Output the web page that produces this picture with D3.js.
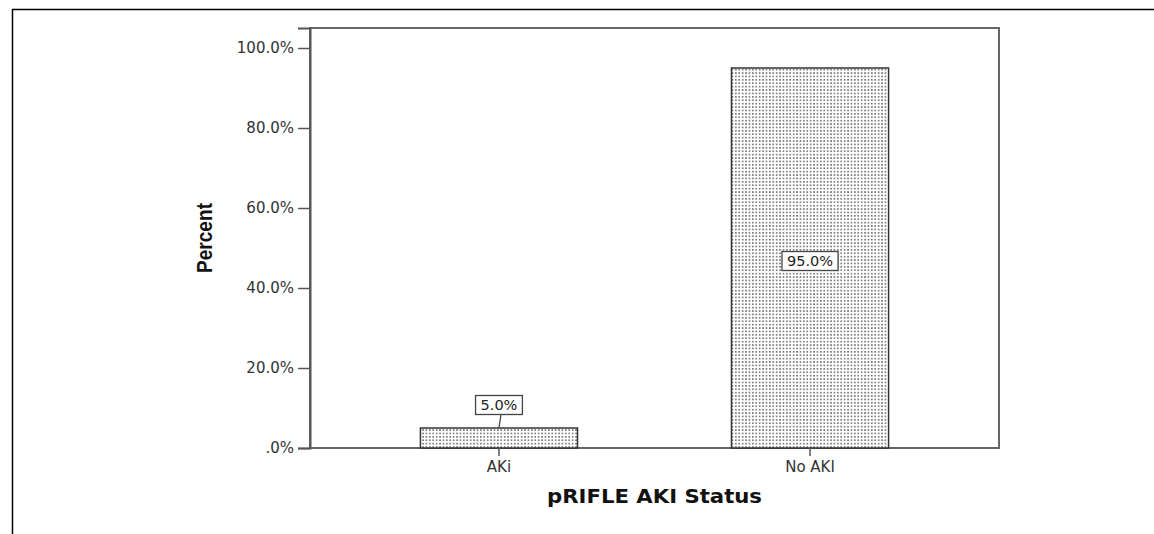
<!DOCTYPE html>
<html>
<head>
<meta charset="utf-8">
<script src="https://cdn.jsdelivr.net/npm/d3@7"></script>
<style>
  body { margin: 0; background: #fff; }
  svg { display: block; }
  .tick text { font-family: "DejaVu Sans", Verdana, sans-serif; font-size: 15px; fill: #333; }
</style>
</head>
<body>
<div id="wrapper"></div>
<script>
// chart data
const categories = ["AKi", "No AKI"];
const percentValues = [5.0, 95.0];
const yTicks = [0, 20, 40, 60, 80, 100];

function drawChart() {
    const dimensions = {
        width: 1154,
        height: 534,
        margin: { top: 28, right: 155, bottom: 86, left: 310 }
    };
    dimensions.boundedWidth = dimensions.width - dimensions.margin.left - dimensions.margin.right;
    dimensions.boundedHeight = dimensions.height - dimensions.margin.top - dimensions.margin.bottom;

    const svg = d3.select("#wrapper").append("svg")
        .attr("width", dimensions.width)
        .attr("height", dimensions.height);

    // dotted fill
    const pattern = svg.append("defs").append("pattern")
        .attr("id", "dots")
        .attr("patternUnits", "userSpaceOnUse")
        .attr("width", 3.4)
        .attr("height", 3.4);
    pattern.append("rect").attr("width", 3.4).attr("height", 3.4).attr("fill", "#fff");
    pattern.append("rect").attr("width", 1.7).attr("height", 1.7).attr("fill", "#808080");

    // outer frame (top + left only)
    svg.append("line").attr("x1", 12).attr("x2", dimensions.width).attr("y1", 9.5).attr("y2", 9.5)
        .attr("stroke", "#000").attr("stroke-width", 1.5);
    svg.append("line").attr("x1", 12.5).attr("x2", 12.5).attr("y1", 9).attr("y2", dimensions.height)
        .attr("stroke", "#000").attr("stroke-width", 1.5);

    const bounds = svg.append("g")
        .attr("transform", `translate(${dimensions.margin.left}, ${dimensions.margin.top})`);

    const xScale = d3.scaleBand()
        .domain(categories)
        .range([0, dimensions.boundedWidth])
        .paddingInner(0.495)
        .paddingOuter(0.355);

    const yScale = d3.scaleLinear()
        .domain([0, 105])
        .range([dimensions.boundedHeight, 0]);

    // plot frame
    bounds.append("rect")
        .attr("width", dimensions.boundedWidth)
        .attr("height", dimensions.boundedHeight)
        .attr("fill", "none")
        .attr("stroke", "#666")
        .attr("stroke-width", 2);

    // bars
    bounds.selectAll(".bar")
        .data(percentValues)
        .join("rect")
        .attr("class", "bar")
        .attr("x", (d, i) => xScale(categories[i]))
        .attr("y", d => yScale(d))
        .attr("width", xScale.bandwidth())
        .attr("height", d => yScale(0) - yScale(d))
        .attr("fill", "url(#dots)")
        .attr("stroke", "#333")
        .attr("stroke-width", 1.5);

    // axes
    const yAxis = bounds.append("g")
        .call(d3.axisLeft(yScale)
            .tickValues(yTicks)
            .tickSize(12)
            .tickPadding(4)
            .tickFormat(d => d === 0 ? ".0%" : d.toFixed(1) + "%"));
    yAxis.select(".domain").attr("stroke", "#555").attr("stroke-width", 2);
    yAxis.selectAll(".tick line").attr("stroke", "#555").attr("stroke-width", 1.5);

    const xAxis = bounds.append("g")
        .attr("transform", `translate(0, ${dimensions.boundedHeight})`)
        .call(d3.axisBottom(xScale).tickSize(8).tickPadding(5));
    xAxis.select(".domain").remove();
    xAxis.selectAll(".tick line").attr("stroke", "#555").attr("stroke-width", 1.5);

    // value labels
    percentValues.forEach((v, i) => {
        const cx = xScale(categories[i]) + xScale.bandwidth() / 2;
        const label = v.toFixed(1) + "%";
        const inside = v > 50;
        const cy = inside ? yScale(v / 2) + 3 : yScale(v) - 23;
        const g = bounds.append("g");
        const t = g.append("text")
            .attr("x", cx)
            .attr("y", cy)
            .attr("dy", "0.36em")
            .attr("text-anchor", "middle")
            .style("font-family", "DejaVu Sans, Verdana, sans-serif")
            .style("font-size", "14.5px")
            .attr("fill", "#222")
            .text(label);
        const bb = t.node().getBBox();
        g.insert("rect", "text")
            .attr("x", bb.x - 5)
            .attr("y", cy - 9.5)
            .attr("width", bb.width + 10)
            .attr("height", 19)
            .attr("fill", "#fff")
            .attr("stroke", "#444")
            .attr("stroke-width", 1.3);
        if (!inside) {
            g.append("line")
                .attr("x1", cx + 2).attr("x2", cx)
                .attr("y1", cy + 9.5).attr("y2", yScale(v))
                .attr("stroke", "#444").attr("stroke-width", 1.3);
        }
    });

    // axis titles
    bounds.append("text")
        .attr("x", dimensions.boundedWidth / 2)
        .attr("y", dimensions.boundedHeight + 55)
        .attr("text-anchor", "middle")
        .attr("textLength", 215)
        .attr("lengthAdjust", "spacingAndGlyphs")
        .style("font-family", "DejaVu Sans, Verdana, sans-serif")
        .style("font-size", "19px")
        .style("font-weight", "bold")
        .attr("fill", "#111")
        .text("pRIFLE AKI Status");

    bounds.append("text")
        .attr("transform", `translate(${-98}, ${dimensions.boundedHeight / 2}) rotate(-90)`)
        .attr("text-anchor", "middle")
        .attr("textLength", 70)
        .attr("lengthAdjust", "spacingAndGlyphs")
        .style("font-family", "Liberation Sans Narrow, Arial Narrow, sans-serif")
        .style("font-size", "22px")
        .style("font-weight", "bold")
        .attr("fill", "#111")
        .text("Percent");
}

drawChart();
</script>
</body>
</html>
